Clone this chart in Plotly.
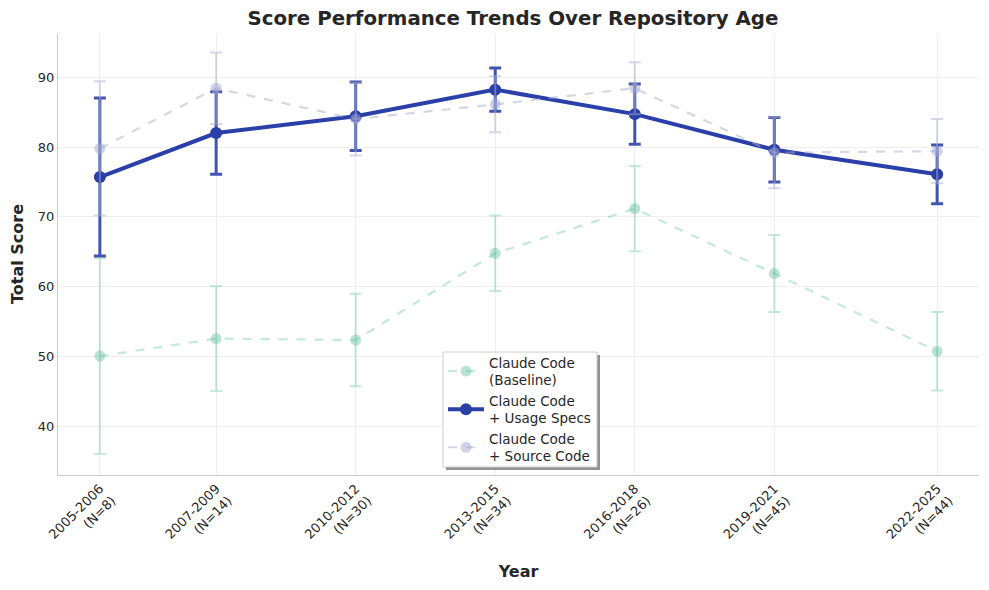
import plotly.graph_objects as go

# ---- data ----
start_years = [2005, 2007, 2010, 2013, 2016, 2019, 2022]
end_years = [2006, 2009, 2012, 2015, 2018, 2021, 2025]
counts = [8, 14, 30, 34, 26, 45, 44]

baseline_mean = [50.1, 52.6, 52.4, 64.8, 71.2, 61.9, 50.8]
baseline_err = [14.0, 7.5, 6.6, 5.4, 6.1, 5.5, 5.6]

specs_mean = [75.7, 82.0, 84.4, 88.2, 84.7, 79.6, 76.1]
specs_err = [11.3, 5.9, 4.9, 3.1, 4.3, 4.6, 4.2]

source_mean = [79.8, 88.4, 84.0, 86.1, 88.4, 79.2, 79.4]
source_err = [9.6, 5.1, 5.2, 4.0, 3.7, 5.1, 4.6]

series_names = ["Claude Code<br>(Baseline)", "Claude Code<br>+ Usage Specs", "Claude Code<br>+ Source Code"]

x_mid = [(s + e) / 2 for s, e in zip(start_years, end_years)]
tick_text = [f"{s}-{e}<br>(N={n})" for s, e, n in zip(start_years, end_years, counts)]

FONT = "DejaVu Sans"
fig = go.Figure()

fig.add_trace(go.Scatter(
    x=x_mid, y=baseline_mean, name=series_names[0], mode="lines+markers",
    line=dict(color="rgba(102,194,165,0.38)", width=2.2, dash="dash"),
    marker=dict(color="rgba(102,194,165,0.45)", size=11),
    error_y=dict(type="data", array=baseline_err, color="rgba(102,194,165,0.38)", thickness=2, width=6),
))
fig.add_trace(go.Scatter(
    x=x_mid, y=specs_mean, name=series_names[1], mode="lines+markers",
    line=dict(color="#2B3FA8", width=4),
    marker=dict(color="#2B3FA8", size=12),
    error_y=dict(type="data", array=specs_err, color="#4255AE", thickness=3, width=6),
))
fig.add_trace(go.Scatter(
    x=x_mid, y=source_mean, name=series_names[2], mode="lines+markers",
    line=dict(color="rgba(170,176,205,0.5)", width=2.2, dash="dash"),
    marker=dict(color="rgba(160,166,210,0.5)", size=11),
    error_y=dict(type="data", array=source_err, color="rgba(170,176,205,0.5)", thickness=2, width=6),
))

# page body has an 8px offset; plot area in page pixels: x 58..979, y 33..475
OFF = 8
PW, PH = 921.0, 442.0
def px_x(p):
    return (p - 58) / PW
def px_y(p):
    return (475 - p) / PH

# legend frame: shadow + white box with border (legend itself is transparent on top)
fig.add_shape(type="rect", xref="paper", yref="paper",
              x0=px_x(446), x1=px_x(600), y0=px_y(470), y1=px_y(355),
              fillcolor="rgba(120,120,120,0.8)", line=dict(width=0), layer="above")
fig.add_shape(type="rect", xref="paper", yref="paper",
              x0=px_x(443), x1=px_x(597), y0=px_y(467), y1=px_y(352),
              fillcolor="white", line=dict(color="#cccccc", width=1), layer="above")

fig.update_layout(
    width=989, height=590,
    paper_bgcolor="white", plot_bgcolor="white",
    margin=dict(l=58 - OFF, r=989 - 979 + OFF, t=33 - OFF, b=590 - 475 + OFF, autoexpand=False),
    font=dict(family=FONT, size=12, color="#262626"),
    title=dict(text="<b>Score Performance Trends Over Repository Age</b>",
               x=(513 - OFF) / 989, xanchor="center", y=1 - (18 - OFF) / 590, yanchor="middle",
               font=dict(size=19.8, color="#262626")),
    showlegend=True,
    legend=dict(x=px_x(443), y=px_y(347), xanchor="left", yanchor="top",
                bgcolor="rgba(0,0,0,0)", borderwidth=0, itemwidth=36,
                font=dict(size=13.5, color="#262626"), tracegroupgap=0),
    xaxis=dict(range=[2004.6, 2024.4], tickmode="array", tickvals=x_mid, ticktext=tick_text,
               tickangle=-45, showgrid=True, gridcolor="#eeeeee", gridwidth=1,
               showline=True, linecolor="#cccccc", linewidth=1, zeroline=False,
               ticks="", tickfont=dict(size=13), automargin=False,
               title=dict(text="<b>Year</b>", font=dict(size=16), standoff=12)),
    yaxis=dict(range=[33.1, 96.3], tickvals=[40, 50, 60, 70, 80, 90],
               showgrid=True, gridcolor="#eeeeee", gridwidth=1,
               showline=True, linecolor="#cccccc", linewidth=1, zeroline=False,
               ticks="", tickfont=dict(size=13), automargin=False,
               title=dict(text="<b>Total Score</b>", font=dict(size=16), standoff=12)),
)

fig.write_html("out.html")
